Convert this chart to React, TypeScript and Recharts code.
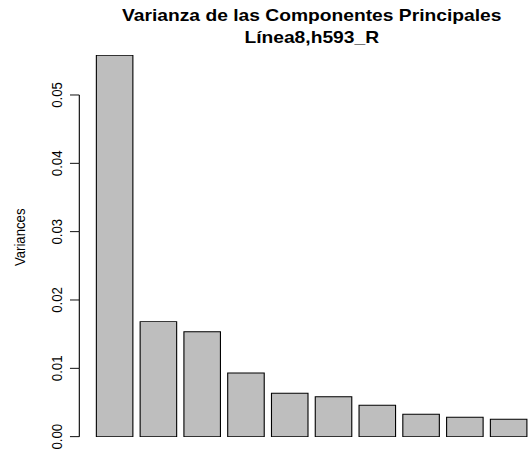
import React from 'react';
import { BarChart, Bar, XAxis, YAxis } from 'recharts';

const components = ['PC1', 'PC2', 'PC3', 'PC4', 'PC5', 'PC6', 'PC7', 'PC8', 'PC9', 'PC10'];
const variances = [0.0558, 0.01683, 0.01536, 0.00932, 0.00635, 0.00585, 0.00459, 0.00328, 0.00284, 0.00255];
const yTicks = [0, 0.01, 0.02, 0.03, 0.04, 0.05];
const yTickLabels = ['0.00', '0.01', '0.02', '0.03', '0.04', '0.05'];
const yDomain: [number, number] = [0, 0.06];
const titleLines = ['Varianza de las Componentes Principales', 'Línea8,h593_R'];
const yLabel = 'Variances';

const data = components.map((c, i) => ({ name: c, value: variances[i] }));

const FONT = '"Liberation Sans", Arial, Helvetica, sans-serif';

const W = 490;
const H = 480;
const Y_AXIS_W = 60;
const PLOT_LEFT = 84.6;

const YTick = (props: any) => {
  const { x, y, payload, height } = props;
  const idx = yTicks.indexOf(payload.value);
  const label = idx >= 0 ? yTickLabels[idx] : String(payload.value);
  const axisX = x - 12.5;
  const step = (height || 0) * (yTicks[1] - yTicks[0]) / (yDomain[1] - yDomain[0]);
  const baseX = x - 28.5;
  return (
    <g>
      <line x1={axisX - 8.5} y1={y} x2={axisX} y2={y} stroke="#000" strokeWidth={1} />
      {payload.value > 0 && (
        <line x1={axisX} y1={y} x2={axisX} y2={y + step} stroke="#000" strokeWidth={1} />
      )}
      <text
        x={baseX}
        y={y}
        transform={`rotate(-90 ${baseX} ${y})`}
        textAnchor="middle"
        fontFamily={FONT}
        fontSize={14}
        fill="#000"
      >
        {label}
      </text>
    </g>
  );
};

export default function App() {
  return (
    <div
      style={{
        position: 'absolute',
        left: 0,
        top: 0,
        width: 528,
        height: 452,
        overflow: 'hidden',
        background: '#fff',
      }}
    >
      <div
        style={{
          position: 'absolute',
          left: 0,
          top: 0,
          width: W,
          height: H,
          transform: 'scale(1.1, 0.941667)',
          transformOrigin: '0 0',
        }}
      >
        <BarChart
          width={W}
          height={H}
          data={data}
          margin={{ top: 28.3, bottom: 16.3, left: PLOT_LEFT - Y_AXIS_W, right: W - 482.6 }}
        >
          <XAxis dataKey="name" hide />
          <YAxis
            type="number"
            domain={yDomain}
            ticks={yTicks}
            interval={0}
            width={Y_AXIS_W}
            axisLine={false}
            tickLine={false}
            tickSize={0}
            tickMargin={0}
            tick={<YTick />}
          />
          <Bar
            dataKey="value"
            fill="#BEBEBE"
            stroke="#000"
            strokeWidth={1}
            barSize={33.2}
            isAnimationActive={false}
          />
        </BarChart>
        <svg
          width={W}
          height={H}
          style={{ position: 'absolute', left: 0, top: 0, pointerEvents: 'none' }}
        >
          <text x={283.4} y={22} textAnchor="middle" fontFamily={FONT} fontSize={17.5} fontWeight="bold" fill="#000">
            {titleLines[0]}
          </text>
          <text x={283.4} y={46.2} textAnchor="middle" fontFamily={FONT} fontSize={17.5} fontWeight="bold" fill="#000">
            {titleLines[1]}
          </text>
          <text
            x={22.7}
            y={252}
            transform="rotate(-90 22.7 252)"
            textAnchor="middle"
            fontFamily={FONT}
            fontSize={14}
            fill="#000"
          >
            {yLabel}
          </text>
        </svg>
      </div>
    </div>
  );
}
